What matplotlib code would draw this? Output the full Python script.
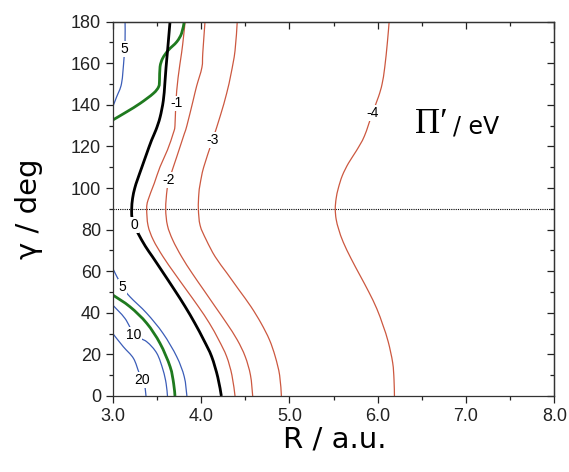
import matplotlib
matplotlib.use("Agg")
import matplotlib.pyplot as plt
from matplotlib.ticker import MultipleLocator
from matplotlib.path import Path
from matplotlib.patches import PathPatch

# ---- contour lines: (gamma in deg, R in a.u.) ----
c_m4 = [(180, 6.13), (170, 6.11), (158, 6.08), (150, 6.05), (144, 6.01), (136, 5.94),
        (125, 5.85), (118, 5.76), (112, 5.67), (106, 5.60), (100, 5.555), (95, 5.53),
        (90, 5.52), (85, 5.53), (80, 5.56), (74, 5.61), (66, 5.70),
        (58, 5.80), (50, 5.90), (42, 5.99), (34, 6.06), (26, 6.12), (16, 6.17), (8, 6.185), (0, 6.19)]
c_m3 = [(180, 4.41), (166, 4.385), (155, 4.34), (145.5, 4.29), (135, 4.22), (123, 4.13),
        (110, 4.03), (102, 3.99), (97, 3.975), (90, 3.97), (82, 3.99), (75, 4.06), (67, 4.16),
        (59, 4.295), (51, 4.43), (43, 4.565), (35, 4.68), (27, 4.775), (19, 4.84), (10, 4.89), (0, 4.91)]
c_m2 = [(180, 4.045), (165, 4.02), (158, 4.01), (149, 3.95), (142, 3.91), (130, 3.84),
        (126, 3.81), (115, 3.725), (104, 3.64), (99, 3.615), (90, 3.60), (82, 3.62), (75, 3.68),
        (67, 3.78), (59, 3.90), (51, 4.03), (43, 4.16), (35, 4.29), (27, 4.41), (19, 4.50),
        (10, 4.56), (0, 4.585)]
c_m1 = [(180, 3.82), (172, 3.80), (165, 3.78), (153, 3.74), (141, 3.715), (130, 3.705),
        (126.4, 3.686), (118.3, 3.62), (110.2, 3.536), (102.2, 3.47), (94.2, 3.40), (90, 3.385),
        (82, 3.40), (75, 3.46), (67, 3.57), (59, 3.70), (51, 3.835), (43, 3.97), (35, 4.095),
        (27, 4.20), (19, 4.29), (10, 4.35), (0, 4.385)]
c_0 = [(180, 3.649), (168, 3.625), (158, 3.604), (150, 3.59), (142, 3.573), (134, 3.536),
       (128, 3.49), (123, 3.44), (116, 3.38), (110, 3.33), (104, 3.28), (100, 3.25), (95, 3.225),
       (90, 3.215), (86, 3.218), (82, 3.245), (78, 3.29), (72, 3.37), (67, 3.45), (60, 3.56),
       (51, 3.70), (43, 3.82), (35, 3.93), (27, 4.03), (19, 4.12), (9, 4.19), (0, 4.23)]
c_green_up = [(180, 3.81), (174.4, 3.78), (170.3, 3.725), (166.3, 3.63), (162.4, 3.566),
              (158.3, 3.536), (151.9, 3.53), (148.7, 3.52), (145.5, 3.46), (140.7, 3.31),
              (136.7, 3.16), (132.7, 3.0)]
c_green_lo = [(48.6, 3.0), (42.9, 3.196), (35, 3.385), (25.3, 3.536), (14.1, 3.65), (6, 3.69), (0, 3.705)]
c_5_up = [(180, 3.14), (171, 3.14), (162.4, 3.128), (150.3, 3.10), (143.9, 3.045), (139, 3.0)]
c_5_lo = [(61.4, 3.0), (52.5, 3.11), (47.7, 3.196), (39.8, 3.385), (30.1, 3.57),
          (18.9, 3.725), (9.3, 3.81), (0, 3.84)]
c_10 = [(43.75, 3.0), (37.3, 3.139), (29.3, 3.25), (26.1, 3.385), (20.5, 3.50),
        (12.5, 3.57), (6, 3.605), (0, 3.62)]
c_20 = [(30.1, 3.0), (23.7, 3.12), (18.1, 3.235), (11, 3.30), (5, 3.36), (0, 3.377)]

# contour labels: (text, R, gamma)
labels = [("5", 3.13, 167), ("-1", 3.72, 140.7), ("-2", 3.63, 103.8), ("-3", 4.13, 123),
          ("-4", 5.94, 136), ("0", 3.245, 82.2), ("5", 3.11, 52.5), ("10", 3.24, 29.3),
          ("20", 3.33, 7.7)]

x_ticks = [3.0, 4.0, 5.0, 6.0, 7.0, 8.0]
y_ticks = [0, 20, 40, 60, 80, 100, 120, 140, 160, 180]

RED = "#cc5840"
BLUE = "#3b5db8"
GREEN = "#1f7a1f"

fig = plt.figure(figsize=(5.69, 4.72), dpi=100)
ax = fig.add_axes([112.7 / 569, 1 - 396 / 472, 441.6 / 569, 374.3 / 472])

SX, SY = 88.3, 2.08   # pixel scale used only to shape the smooth path


def draw(curve, color, lw):
    pts = [(p[1] * SX, p[0] * SY) for p in curve]
    n = len(pts)
    verts = [pts[0]]
    codes = [Path.MOVETO]
    for i in range(n - 1):
        p0 = pts[max(i - 1, 0)]
        p1 = pts[i]
        p2 = pts[i + 1]
        p3 = pts[min(i + 2, n - 1)]
        c1 = (p1[0] + (p2[0] - p0[0]) / 6, p1[1] + (p2[1] - p0[1]) / 6)
        c2 = (p2[0] - (p3[0] - p1[0]) / 6, p2[1] - (p3[1] - p1[1]) / 6)
        verts += [c1, c2, p2]
        codes += [Path.CURVE4] * 3
    verts = [(x / SX, y / SY) for x, y in verts]
    ax.add_patch(PathPatch(Path(verts, codes), fill=False, edgecolor=color, lw=lw,
                           capstyle="butt", zorder=2))


for c in (c_m4, c_m3, c_m2, c_m1):
    draw(c, RED, 0.9)
for c in (c_5_up, c_5_lo, c_10, c_20):
    draw(c, BLUE, 0.9)
draw(c_green_up, GREEN, 2.0)
draw(c_green_lo, GREEN, 2.0)
draw(c_0, "black", 2.0)

ax.axhline(90, color="black", lw=0.8, ls=(0, (1, 1)), zorder=1)

for t, r, g in labels:
    ax.text(r, g, t, fontsize=10, family="Liberation Sans", ha="center", va="center",
            bbox=dict(facecolor="white", edgecolor="none", pad=0.6), zorder=3)

ax.set_xlim(3.0, 8.0)
ax.set_ylim(0, 180)
ax.set_xticks(x_ticks)
ax.set_xticklabels([f"{v:.1f}" for v in x_ticks])
ax.set_yticks(y_ticks)
ax.set_yticklabels([str(v) for v in y_ticks])
ax.xaxis.set_minor_locator(MultipleLocator(0.5))
ax.yaxis.set_minor_locator(MultipleLocator(10))
ax.tick_params(which="both", direction="out", colors="#222222", labelsize=13,
               width=0.9)
ax.tick_params(which="major", length=5)
ax.tick_params(which="minor", length=3)
for lab in ax.get_xticklabels() + ax.get_yticklabels():
    lab.set_family("Liberation Sans")

top = ax.secondary_xaxis("top")
top.set_xticks(x_ticks)
top.xaxis.set_minor_locator(MultipleLocator(0.5))
top.tick_params(which="both", direction="in", labeltop=False, width=0.9, colors="#222222")
top.tick_params(which="major", length=5)
top.tick_params(which="minor", length=3)
right = ax.secondary_yaxis("right")
right.set_yticks(y_ticks)
right.yaxis.set_minor_locator(MultipleLocator(10))
right.tick_params(which="both", direction="in", labelright=False, width=0.9, colors="#222222")
right.tick_params(which="major", length=5)
right.tick_params(which="minor", length=3)
for sp in list(ax.spines.values()) + [top.spines["top"], right.spines["right"]]:
    sp.set_color("#333333")
    sp.set_linewidth(0.9)

fig.text(335 / 569, 1 - 448 / 472, "R / a.u.", fontsize=21, family="DejaVu Sans",
         ha="center", va="baseline")
fig.text(29 / 569, 1 - 209 / 472, "γ / deg", fontsize=21, family="DejaVu Sans",
         ha="center", va="center", rotation=90)

ax.text(6.42, 126.4, "Π′", fontsize=25, family=["Liberation Serif", "DejaVu Serif"],
        ha="left", va="baseline")
ax.text(6.85, 126.4, "/ eV", fontsize=17, family="DejaVu Sans", ha="left", va="baseline")

fig.savefig("out.png", dpi=100)
